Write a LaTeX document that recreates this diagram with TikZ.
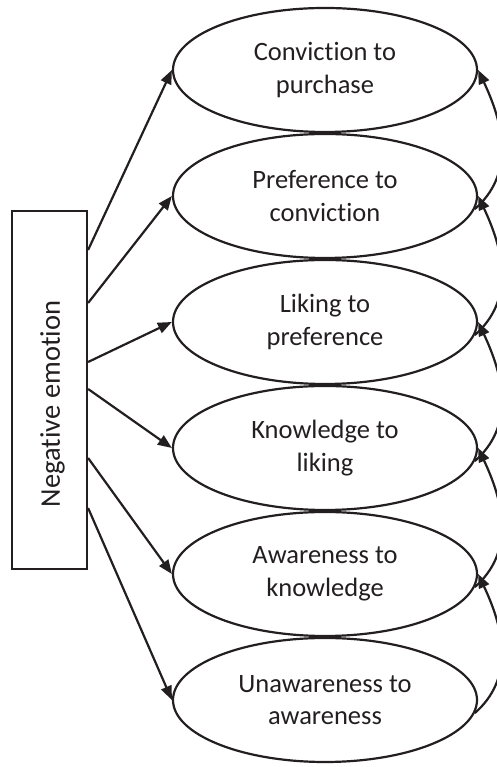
\documentclass[tikz,border=0pt]{standalone}
\usepackage{fontspec}
\setmainfont{Carlito}[Ligatures={NoCommon}]
\usetikzlibrary{shapes.geometric,arrows.meta}
\definecolor{ink}{RGB}{35,31,32}
\begin{document}
\begin{tikzpicture}[x=1pt,y=1pt,
  stage/.style={ellipse,draw=ink,text=ink,line width=2.2pt,minimum width=304pt,minimum height=124pt,inner sep=0pt,align=center,font=\fontsize{26.5}{32.5}\selectfont},
  src/.style={draw=ink,line width=2.2pt,minimum width=75pt,minimum height=358pt,inner sep=0pt},
  srctext/.style={rotate=90,inner sep=0pt,text=ink,font=\fontsize{28.5}{32}\selectfont},
  link/.style={draw=ink,line width=2.2pt,-{Triangle[length=14pt,width=11pt]}},
  loop/.style={draw=ink,line width=2.2pt,-{Triangle[length=14pt,width=11pt]}}]
\useasboundingbox (0,0) rectangle (497,767);
\clip (0,0) rectangle (497,767);
\node[src] (neg) at (49.5,377) {};
\node[srctext] (negt) at (52.5,363) {Negative emotion};
\node[stage] (e1) at (325,697) {Conviction to\\purchase};
\node[stage] (e2) at (325,571) {Preference to\\conviction};
\node[stage] (e3) at (325,445) {Liking to\\preference};
\node[stage] (e4) at (325,319) {Knowledge to\\liking};
\node[stage] (e5) at (325,193) {Awareness to\\knowledge};
\node[stage] (e6) at (325,67) {Unawareness to\\awareness};
\draw[link] ([yshift=140pt]neg.east) -- (e1.west);
\draw[link] ([yshift=87pt]neg.east) -- (e2.west);
\draw[link] ([yshift=28pt]neg.east) -- (e3.west);
\draw[link] ([yshift=1pt]neg.east) -- (e4.west);
\draw[link] ([yshift=-68pt]neg.east) -- (e5.west);
\draw[link] ([yshift=-118pt]neg.east) -- (e6.west);
\draw[loop] (e2.-5) .. controls +(40,35) and +(26,-55) .. (e1.east);
\draw[loop] (e3.-5) .. controls +(40,35) and +(26,-55) .. (e2.east);
\draw[loop] (e4.-5) .. controls +(40,35) and +(26,-55) .. (e3.east);
\draw[loop] (e5.-5) .. controls +(40,35) and +(26,-55) .. (e4.east);
\draw[loop] (e6.-5) .. controls +(40,35) and +(26,-55) .. (e5.east);
\end{tikzpicture}
\end{document}
